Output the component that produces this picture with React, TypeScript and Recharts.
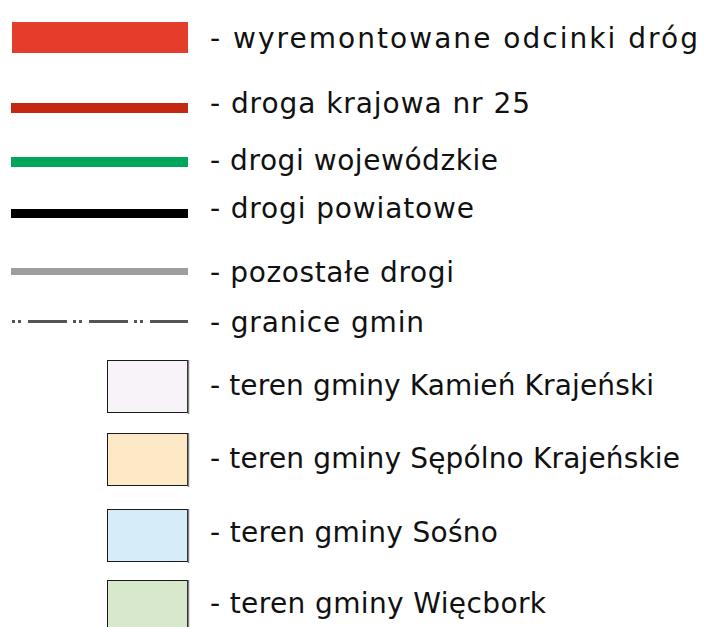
import { ComposedChart, Line, Area, Legend } from 'recharts';

// legend entries (map legend only, no plotted values)
const labels = [
  'wyremontowane odcinki dróg',
  'droga krajowa nr 25',
  'drogi wojewódzkie',
  'drogi powiatowe',
  'pozostałe drogi',
  'granice gmin',
  'teren gminy Kamień Krajeński',
  'teren gminy Sępólno Krajeńskie',
  'teren gminy Sośno',
  'teren gminy Więcbork',
];
const kinds = ['band', 'line', 'line', 'line', 'line', 'dashdot', 'area', 'area', 'area', 'area'];
const colors = [
  '#e53d2b',
  '#c32810',
  '#00a65a',
  '#000000',
  '#9e9e9e',
  '#555555',
  '#f7f3f9',
  '#fee9c6',
  '#d6edf9',
  '#d7e8cc',
];

// layout of the legend rows (px)
const textBase = [48, 113, 170, 218, 282, 332, 395, 468, 542, 613];
const textEnd = [697, 529, 497, 473, 453, 423, 653, 679, 497, 545];
const iconMid = [37.5, 108, 162, 213.5, 271.5, 321.5, 386.5, 459.5, 535.5, 606.5];
const iconSize = [31, 10, 10, 9, 7, 3, 53, 53, 53, 53];

const W = 707;
const H = 627;
const TEXT_X = 210;

const LegendBox = () => (
  <svg width={W} height={H} style={{ display: 'block' }}>
    {labels.map((label, i) => {
      const k = kinds[i];
      const mid = iconMid[i];
      const h = iconSize[i];
      let icon = null;
      if (k === 'band' || k === 'line') {
        icon = <rect x={k === 'band' ? 12 : 11} y={mid - h / 2} width={k === 'band' ? 176 : 177} height={h} fill={colors[i]} />;
      } else if (k === 'dashdot') {
        icon = (
          <line x1={12} x2={188} y1={mid} y2={mid} stroke={colors[i]} strokeWidth={h} strokeDasharray="3 3 3 7 39 6" />
        );
      } else {
        icon = (
          <g>
            <rect x={107.5} y={mid - h / 2 + 0.5} width={80} height={h - 1} fill={colors[i]} stroke="#1a1a1a" strokeWidth={1} />
            <line x1={188.5} x2={188.5} y1={mid - h / 2} y2={mid + h / 2 + 1} stroke="#808080" strokeWidth={1.5} />
          </g>
        );
      }
      return (
        <g key={label}>
          {icon}
          <text
            x={TEXT_X}
            y={textBase[i]}
            fontSize={28}
            fill="#111"
            fontFamily="DejaVu Sans"
            textLength={textEnd[i] - TEXT_X + 1}
            lengthAdjust="spacing"
          >
            - {label}
          </text>
        </g>
      );
    })}
  </svg>
);

export default function App() {
  return (
    <div style={{ position: 'absolute', left: 0, top: 0, width: W, height: H, background: '#fff' }}>
      <ComposedChart width={W} height={H} data={[]} margin={{ top: 0, right: 0, bottom: 0, left: 0 }}>
        {labels.map((label, i) =>
          kinds[i] === 'area' ? (
            <Area key={label} dataKey={`s${i}`} name={label} fill={colors[i]} stroke="#000" isAnimationActive={false} />
          ) : (
            <Line key={label} dataKey={`s${i}`} name={label} stroke={colors[i]} isAnimationActive={false} />
          )
        )}
        <Legend
          content={() => <LegendBox />}
          wrapperStyle={{ left: 0, top: 0, width: W, height: H, margin: 0 }}
        />
      </ComposedChart>
    </div>
  );
}
